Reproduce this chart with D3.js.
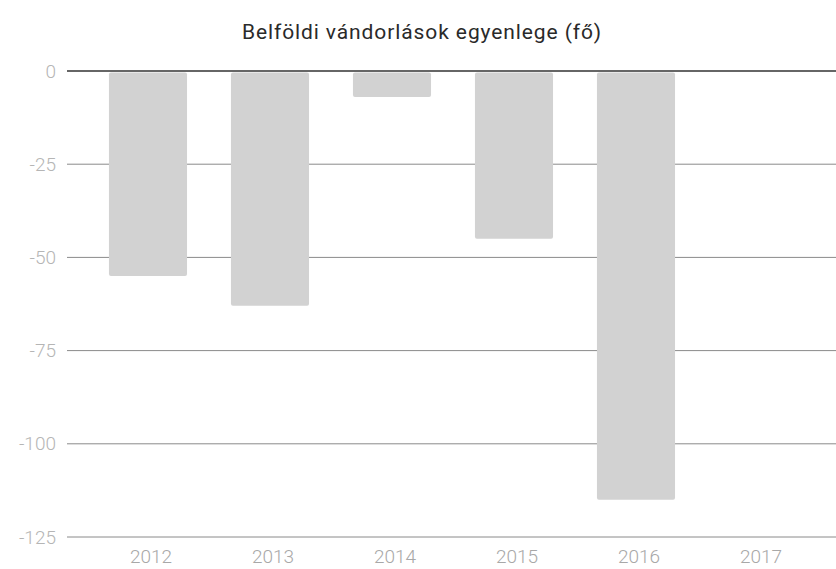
<!DOCTYPE html>
<html>
<head>
<meta charset="utf-8">
<script src="https://cdn.jsdelivr.net/npm/d3@7"></script>
<style>
  body { margin: 0; background: #fff; }
  svg { display: block; font-family: Roboto, "Noto Sans", sans-serif; }
</style>
</head>
<body>
<div id="chart"></div>
<script>
var width = 836, height = 569;

// data
var years = ['2012', '2013', '2014', '2015', '2016', '2017'];
var values = [-55, -63, -7, -45, -115, null];
var yTicks = [0, -25, -50, -75, -100, -125];
var title = 'Belföldi vándorlások egyenlege (fő)';

var svg = d3.select('#chart').append('svg')
    .attr('width', width)
    .attr('height', height);

var x = d3.scaleBand()
    .domain(years)
    .range([87, 819])
    .paddingInner(0.36)
    .paddingOuter(0.18);

var y = d3.scaleLinear()
    .domain([-125, 0])
    .range([537, 71]);

// title
svg.append('text')
    .attr('x', 422)
    .attr('y', 39)
    .attr('text-anchor', 'middle')
    .style('font-size', '21px')
    .style('letter-spacing', '0.9px')
    .style('fill', '#2a2a2a')
    .text(title);

// gridlines
svg.append('g').selectAll('line')
    .data(yTicks.filter(function(d) { return d != 0; }))
    .enter().append('line')
      .attr('x1', 67)
      .attr('x2', width)
      .attr('y1', function(d) { return y(d); })
      .attr('y2', function(d) { return y(d); })
      .attr('stroke', '#8a8a8a')
      .attr('stroke-width', 1);

// y tick labels
svg.append('g').selectAll('text')
    .data(yTicks)
    .enter().append('text')
      .attr('x', 56)
      .attr('y', function(d) { return y(d); })
      .attr('dy', '0.35em')
      .attr('text-anchor', 'end')
      .style('font-size', '19px')
      .style('font-weight', 300)
      .style('fill', '#b5b5b5')
      .text(function(d) { return d; });

// bars
var data = years.map(function(d, i) { return {year: d, value: values[i]}; })
    .filter(function(d) { return d.value != null; });

svg.append('g').selectAll('rect')
    .data(data)
    .enter().append('rect')
      .attr('x', function(d) { return x(d.year); })
      .attr('width', x.bandwidth())
      .attr('y', y(0) + 1.5)
      .attr('height', function(d) { return y(d.value) - y(0) - 1.5; })
      .attr('rx', 2)
      .attr('fill', '#d2d2d2');

// zero line
svg.append('line')
    .attr('x1', 67)
    .attr('x2', width)
    .attr('y1', y(0))
    .attr('y2', y(0))
    .attr('stroke', '#333')
    .attr('stroke-width', 1.6);

// x labels
svg.append('g').selectAll('text')
    .data(years)
    .enter().append('text')
      .attr('x', function(d) { return x(d) + x.bandwidth() / 2 + 3; })
      .attr('y', 563)
      .attr('text-anchor', 'middle')
      .style('font-size', '19px')
      .style('font-weight', 300)
      .style('fill', '#a8a8a8')
      .text(function(d) { return d; });
</script>
</body>
</html>
